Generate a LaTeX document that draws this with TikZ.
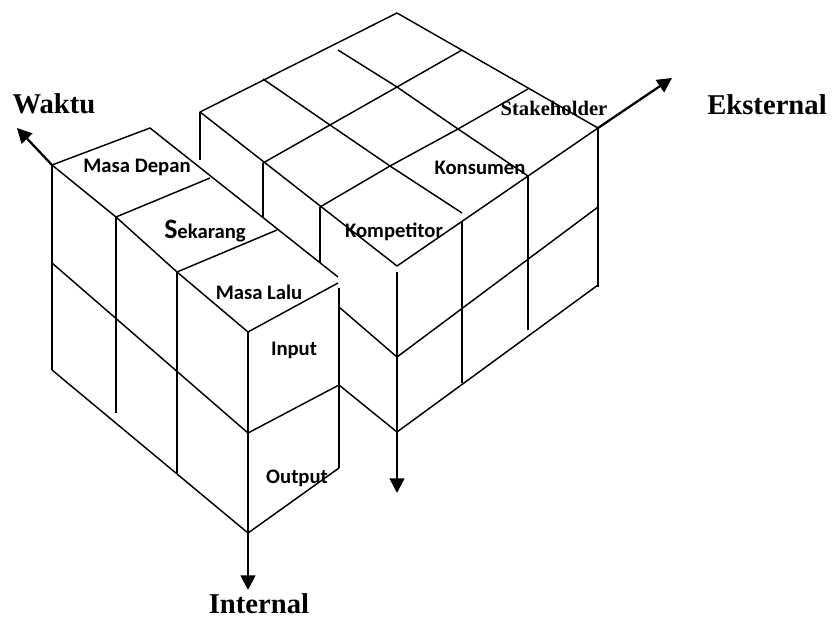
\documentclass[tikz,border=0pt]{standalone}
\usepackage{fontspec}
\setmainfont{Liberation Serif}
\newfontfamily\calibfont{Carlito}
\usetikzlibrary{arrows.meta}

\begin{document}
\begin{tikzpicture}[x=0.75pt,y=-0.75pt,
    edge/.style={line width=1.1pt,line join=round},
    axis/.style={line width=1.7pt,-{Triangle[length=11pt,width=11pt]}},
    axislabel/.style={font=\fontsize{21.5}{24}\selectfont\bfseries,inner sep=0pt},
    cell/.style={font=\calibfont\fontsize{15.5}{18}\selectfont\bfseries,inner sep=0pt},
    stakelabel/.style={font=\fontsize{15.5}{18}\selectfont\bfseries,inner sep=0pt}]
    \useasboundingbox (0,0) rectangle (832,620);

    % right block: top grid
    \draw[edge] (200,112) -- (397,13) -- (598,128) -- (397,266) -- cycle;
    \draw[edge] (263,163) -- (330,125) -- (397,87) -- (462,50);
    \draw[edge] (320,207) -- (390,166) -- (458,129) -- (528,89);
    \draw[edge] (263,79) -- (330,125) -- (390,166) -- (462,213);
    \draw[edge] (338,50) -- (397,87) -- (458,129) -- (528,176);
    % right block: hidden verticals behind the time block
    \draw[edge] (200,112) -- (200,160);
    \draw[edge] (263,163) -- (263,217);
    \draw[edge] (320,207) -- (320,263);
    % right block: front faces
    \draw[edge] (397,272) -- (397,432);
    \draw[edge] (462,222) -- (462,383);
    \draw[edge] (528,176) -- (528,330);
    \draw[edge] (598,128) -- (598,287);
    \draw[edge] (339,307) -- (397,357) -- (598,207);
    \draw[edge] (339,385) -- (397,432) -- (598,285);

    % time block: top
    \draw[edge] (52,165) -- (150,128) -- (338,277);
    \draw[edge] (52,165) -- (116,217) -- (177,272) -- (248,332) -- (338,283);
    \draw[edge] (116,217) -- (210,178);
    \draw[edge] (177,272) -- (277,230);
    % time block: sides
    \draw[edge] (52,165) -- (52,370);
    \draw[edge] (116,217) -- (116,413);
    \draw[edge] (177,272) -- (177,473);
    \draw[edge] (248,332) -- (248,533);
    \draw[edge] (339,288) -- (339,468);
    \draw[edge] (52,263) -- (248,433) -- (339,385);
    \draw[edge] (52,370) -- (248,533) -- (339,468);

    % axes
    \draw[axis] (52,165) -- (17,128);
    \draw[axis] (598,128) -- (672,78);
    \draw[axis] (248,533) -- (248,590);
    \draw[axis] (397,432) -- (397,493);

    % labels
    \node[axislabel] (waktu) at (54,104) {Waktu};
    \node[axislabel] (eksternal) at (767,105) {Eksternal};
    \node[axislabel] (internal) at (259,604) {Internal};
    \node[cell] (depan) at (137,167) {Masa Depan};
    \node[cell] (sekarang) at (205,231) {{\fontsize{21}{24}\selectfont S}ekarang};
    \node[cell] (lalu) at (259,292) {Masa Lalu};
    \node[cell] (input) at (294,350) {Input};
    \node[cell] (output) at (297,478) {Output};
    \node[cell] (kompetitor) at (394,232) {Kompetitor};
    \node[cell] (konsumen) at (480,168) {Konsumen};
    \node[stakelabel] (stakeholder) at (554,108) {Stakeholder};
\end{tikzpicture}
\end{document}
